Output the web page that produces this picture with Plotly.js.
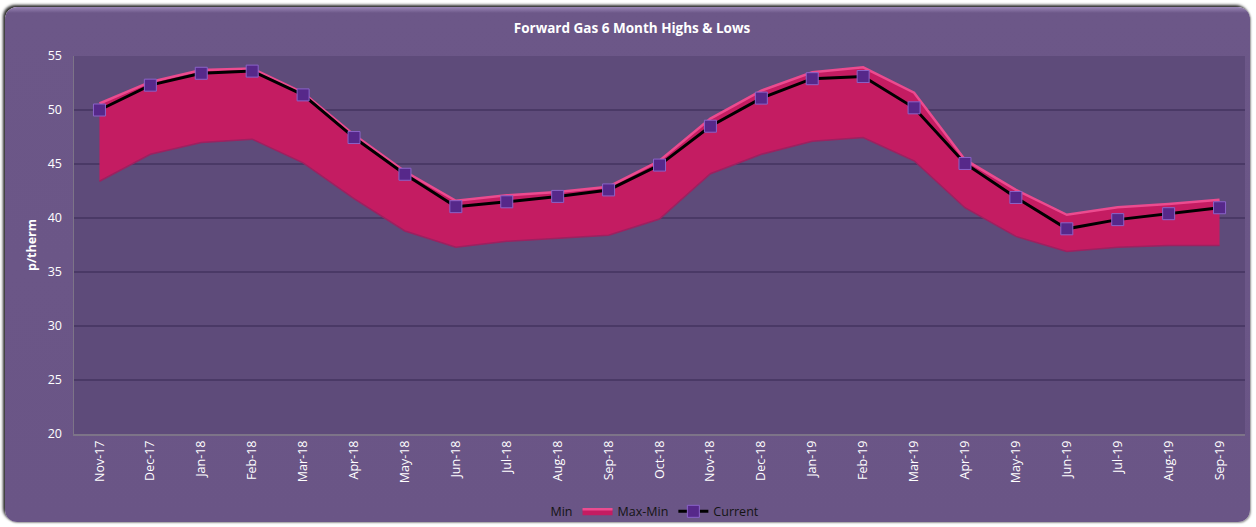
<!DOCTYPE html>
<html>
<head>
<meta charset="utf-8">
<script src="https://cdn.plot.ly/plotly-3.0.1.min.js"></script>
<style>
  html, body { margin: 0; padding: 0; background: #ffffff; width: 1256px; height: 527px; overflow: hidden; }
  #frame {
    position: absolute; left: 5px; top: 7px; width: 1245px; height: 515px;
    border-radius: 12px;
    background: linear-gradient(to bottom, #9a86b6 0px, #6c5788 6px, #6a5586 100%);
    box-shadow: -2px -2px 3px rgba(0,0,0,0.85), 1px 1px 2px rgba(0,0,0,0.4);
  }
  #chart { position: absolute; left: 0; top: 0; width: 1245px; height: 515px; }
</style>
</head>
<body>
<div id="frame"><div id="chart"></div></div>
<script>
const months = ["Nov-17","Dec-17","Jan-18","Feb-18","Mar-18","Apr-18","May-18","Jun-18","Jul-18","Aug-18","Sep-18","Oct-18","Nov-18","Dec-18","Jan-19","Feb-19","Mar-19","Apr-19","May-19","Jun-19","Jul-19","Aug-19","Sep-19"];
const minVals = [43.4, 45.9, 47.0, 47.3, 45.1, 41.8, 38.8, 37.3, 37.85, 38.1, 38.4, 39.9, 44.1, 45.9, 47.1, 47.45, 45.3, 40.95, 38.3, 36.9, 37.3, 37.45, 37.45];
const maxVals = [50.6, 52.6, 53.7, 53.85, 51.6, 47.7, 44.3, 41.6, 42.1, 42.4, 42.9, 45.3, 49.2, 51.8, 53.5, 53.95, 51.6, 45.4, 42.6, 40.3, 41.0, 41.3, 41.7];
const currentVals = [50.0, 52.3, 53.4, 53.6, 51.4, 47.45, 44.05, 41.05, 41.5, 42.0, 42.6, 44.9, 48.5, 51.1, 52.9, 53.1, 50.2, 45.05, 41.9, 39.0, 39.85, 40.4, 40.95];
const yTicks = [20, 25, 30, 35, 40, 45, 50, 55];

const traces = [
  { x: months, y: minVals, name: "Min", type: "scatter", mode: "lines",
    line: { color: "rgba(0,0,0,0)", width: 0 }, hoverinfo: "skip" },
  { x: months, y: maxVals, name: "Max-Min", type: "scatter", mode: "lines",
    fill: "tonexty", fillcolor: "#c41c62",
    line: { color: "#ec4b8f", width: 2.5 } },
  { x: months, y: minVals, name: "edge", type: "scatter", mode: "lines",
    line: { color: "#9c2160", width: 1.5 }, showlegend: false, hoverinfo: "skip" },
  { x: months, y: currentVals, name: "Current", type: "scatter", mode: "lines+markers",
    line: { color: "#000000", width: 3 },
    marker: { symbol: "square", size: 12, color: "#56288a", line: { color: "#8a63c8", width: 1 } } }
];

const layout = {
  width: 1245, height: 515,
  paper_bgcolor: "rgba(0,0,0,0)",
  plot_bgcolor: "#5e4b7a",
  margin: { l: 69, r: 5, t: 49, b: 88, autoexpand: false },
  font: { family: "Open Sans, sans-serif", color: "#ffffff", size: 11 },
  title: { text: "<b>Forward Gas 6 Month Highs &amp; Lows</b>", x: 0.5036, xref: "container", xanchor: "center",
           y: 0.958, yref: "container", yanchor: "middle",
           font: { family: "Open Sans, sans-serif", size: 13.5, color: "#ffffff" } },
  xaxis: {
    type: "category", categoryorder: "array", categoryarray: months,
    range: [-0.5, 22.5], tickangle: -90, showgrid: false,
    showline: true, linecolor: "#7d7488", linewidth: 1.5,
    ticks: "", ticklen: 0, tickfont: { size: 12.5, color: "#ffffff" }, fixedrange: true
  },
  yaxis: {
    range: [20, 55], tickvals: yTicks, ticktext: yTicks.map(String),
    showgrid: true, gridcolor: "#4a3966", gridwidth: 1.5,
    showline: true, linecolor: "#7d7488", linewidth: 1.5, zeroline: false,
    ticks: "", ticklabelstandoff: 8, tickfont: { size: 12.5, color: "#ffffff" },
    title: { text: "<b>p/therm</b>", standoff: 8, font: { size: 12.5, color: "#ffffff" } }
  },
  legend: {
    orientation: "h", traceorder: "normal", x: 0.508, xref: "container", xanchor: "center",
    y: 0.02, yref: "container", yanchor: "middle",
    font: { size: 12.5, color: "#141414" }, bgcolor: "rgba(0,0,0,0)",
    itemwidth: 30, tracegroupgap: 0
  },
  showlegend: true
};

Plotly.newPlot("chart", traces, layout, { displayModeBar: false, staticPlot: true });
</script>
</body>
</html>
